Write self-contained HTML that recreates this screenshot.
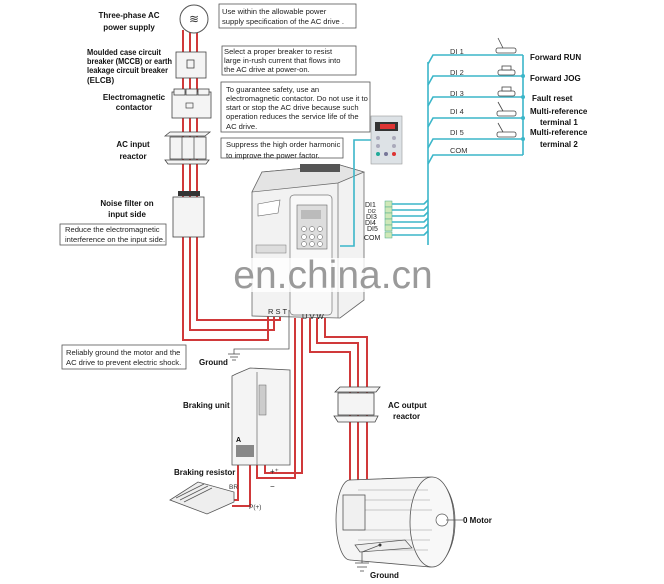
<!DOCTYPE html>
<html><head><meta charset="utf-8"><style>
body{margin:0;background:#fff}
svg{display:block}
text{font-family:"Liberation Sans",Arial,sans-serif}
.b{font-weight:bold;font-size:8px;fill:#111}
.t{font-size:7.6px;fill:#222}
.r{stroke:#d0393a;stroke-width:2;fill:none}
.c{stroke:#3bb6c9;stroke-width:1.6;fill:none}
.g{stroke:#444;stroke-width:0.8;fill:#f4f4f4}
.bx{fill:#fff;stroke:#555;stroke-width:0.8}
</style></head><body>
<svg width="664" height="584" viewBox="0 0 664 584">
<text class="b" x="129" y="18" text-anchor="middle">Three-phase AC</text>
<text class="b" x="129" y="30" text-anchor="middle">power supply</text>
<text class="b" x="87" y="55" textLength="74" lengthAdjust="spacingAndGlyphs">Moulded case circuit</text>
<text class="b" x="87" y="64" textLength="85" lengthAdjust="spacingAndGlyphs">breaker (MCCB) or earth</text>
<text class="b" x="87" y="73" textLength="81" lengthAdjust="spacingAndGlyphs">leakage circuit breaker</text>
<text class="b" x="87" y="83">(ELCB)</text>
<text class="b" x="134" y="100" text-anchor="middle">Electromagnetic</text>
<text class="b" x="134" y="110" text-anchor="middle">contactor</text>
<text class="b" x="133" y="147" text-anchor="middle">AC input</text>
<text class="b" x="133" y="159" text-anchor="middle">reactor</text>
<text class="b" x="127" y="206" text-anchor="middle">Noise filter on</text>
<text class="b" x="127" y="217" text-anchor="middle">input side</text>
<rect class="bx" x="219" y="4" width="137" height="24"/>
<text class="t" x="222" y="14">Use within the allowable power</text>
<text class="t" x="222" y="24">supply specification of the AC drive .</text>
<rect class="bx" x="222" y="46" width="134" height="29"/>
<text class="t" x="224" y="54">Select a proper breaker to resist</text>
<text class="t" x="224" y="63">large in-rush current that flows into</text>
<text class="t" x="224" y="72">the AC drive at power-on.</text>
<rect class="bx" x="221" y="82" width="149" height="50"/>
<text class="t" x="226" y="92">To guarantee safety, use an</text>
<text class="t" x="226" y="101">electromagnetic contactor. Do not use it to</text>
<text class="t" x="226" y="110">start or stop the AC drive because such</text>
<text class="t" x="226" y="119">operation reduces the service life of the</text>
<text class="t" x="226" y="129">AC drive.</text>
<rect class="bx" x="221" y="138" width="122" height="20"/>
<text class="t" x="226" y="147">Suppress the high order harmonic</text>
<text class="t" x="226" y="158">to improve the power factor.</text>
<rect class="bx" x="60" y="224" width="106" height="21"/>
<text class="t" x="65" y="232">Reduce the electromagnetic</text>
<text class="t" x="65" y="242">interference on the input side.</text>
<rect class="bx" x="62" y="345" width="124" height="24"/>
<text class="t" x="66" y="355">Reliably ground the motor and the</text>
<text class="t" x="66" y="365">AC drive to prevent electric shock.</text>
<path class="r" d="M183 30V340H268V310"/>
<path class="r" d="M190 30V330H274V310"/>
<path class="r" d="M197 30V320H280V310"/>
<circle cx="194" cy="19" r="14" fill="#fff" stroke="#555"/>
<text x="194" y="23" font-size="12" text-anchor="middle" fill="#333">≋</text>
<rect class="g" x="176" y="52" width="30" height="26"/>
<rect x="187" y="60" width="7" height="8" fill="none" stroke="#444" stroke-width="0.8"/>
<rect class="g" x="172" y="92" width="39" height="26"/>
<rect class="g" x="174" y="89" width="11" height="6"/><rect class="g" x="186" y="89" width="11" height="6"/><rect class="g" x="198" y="89" width="11" height="6"/>
<rect x="186" y="103" width="7" height="5" fill="none" stroke="#444" stroke-width="0.7"/>
<path class="g" d="M165 136L170 132H210L205 136Z"/>
<rect class="g" x="170" y="137" width="36" height="22"/>
<line x1="182" y1="137" x2="182" y2="159" stroke="#444" stroke-width="0.7"/><line x1="194" y1="137" x2="194" y2="159" stroke="#444" stroke-width="0.7"/>
<path class="g" d="M165 160H209L206 164H168Z"/>
<rect class="g" x="173" y="197" width="31" height="40"/>
<rect x="178" y="191" width="22" height="5" fill="#333"/>
<path d="M252 192L262 172L340 165L364 172L364 300L340 318L252 316Z" fill="#f2f2f2" stroke="#666" stroke-width="0.8"/>
<path d="M262 172L340 165L364 172L338 183L252 192Z" fill="#e4e4e4" stroke="#666" stroke-width="0.7"/>
<rect x="300" y="164" width="40" height="8" fill="#555"/>
<line x1="338" y1="183" x2="338" y2="318" stroke="#777" stroke-width="0.8"/>
<rect x="290" y="195" width="42" height="120" rx="4" fill="#f8f8f8" stroke="#777" stroke-width="0.7"/>
<rect x="297" y="205" width="30" height="44" fill="#ddd" stroke="#666" stroke-width="0.6"/>
<rect x="301" y="210" width="20" height="9" fill="#bbb"/>
<g fill="#fff" stroke="#555" stroke-width="0.5"><circle cx="304" cy="229" r="2.5"/><circle cx="312" cy="229" r="2.5"/><circle cx="320" cy="229" r="2.5"/><circle cx="304" cy="237" r="2.5"/><circle cx="312" cy="237" r="2.5"/><circle cx="320" cy="237" r="2.5"/><circle cx="304" cy="244" r="2.5"/><circle cx="312" cy="244" r="2.5"/><circle cx="320" cy="244" r="2.5"/></g>
<path d="M258 204L280 200L278 213L258 216Z" fill="#fff" stroke="#666" stroke-width="0.6"/>
<rect x="256" y="245" width="30" height="8" fill="#ddd" stroke="#777" stroke-width="0.5"/>
<text x="268" y="314" font-size="7.5" fill="#222">R S T</text>
<text x="302" y="319" font-size="7.5" fill="#222">U V W</text>
<rect x="240" y="258" width="226" height="34" fill="#fff" opacity="0.8"/>
<text x="333" y="288" font-size="39" fill="#9a9a9a" text-anchor="middle">en.china.cn</text>
<g font-size="7" fill="#222">
<text x="365" y="207">DI1</text><text x="368" y="213" font-size="5">DI2</text><text x="366" y="219">DI3</text><text x="365" y="225">DI4</text><text x="367" y="231">DI5</text><text x="364" y="240">COM</text></g>
<g fill="#cfe8b8" stroke="#4a8" stroke-width="0.5"><rect x="385" y="201" width="7" height="6"/><rect x="385" y="207" width="7" height="6"/><rect x="385" y="213" width="7" height="6"/><rect x="385" y="219" width="7" height="6"/><rect x="385" y="225" width="7" height="6"/><rect x="385" y="232" width="7" height="6"/></g>
<path class="c" d="M392 204H424L428 200M392 210H424L428 206M392 216H424L428 212M392 222H424L428 218M392 228H424L428 224M392 235H424L428 231" stroke-width="1.2"/>
<path class="c" d="M428 62V245"/>
<path class="c" d="M371 140H354V246H340"/>
<path class="c" d="M428 64L433 55H523M428 85L433 76H523M428 106L433 97H523M428 127L433 118H523M428 148L433 139H523M428 164L433 155H523M523 55V155" stroke-width="1.2"/>
<g fill="#3bb6c9"><circle cx="523" cy="76" r="2"/><circle cx="523" cy="97" r="2"/><circle cx="523" cy="118" r="2"/><circle cx="523" cy="139" r="2"/></g>
<g font-size="7.5" fill="#333"><text x="450" y="54">DI 1</text><text x="450" y="75">DI 2</text><text x="450" y="96">DI 3</text><text x="450" y="114">DI 4</text><text x="450" y="135">DI 5</text><text x="450" y="153">COM</text></g>
<g fill="#fff" stroke="#444" stroke-width="0.8">
<rect x="496" y="48" width="20" height="5" rx="2"/><line x1="503" y1="48" x2="498" y2="38"/>
<rect x="498" y="70" width="17" height="5" rx="2"/><rect x="502" y="66" width="9" height="4"/>
<rect x="498" y="91" width="17" height="5" rx="2"/><rect x="502" y="87" width="9" height="4"/>
<rect x="497" y="111" width="19" height="5" rx="2"/><line x1="503" y1="111" x2="498" y2="102"/>
<rect x="497" y="132" width="19" height="5" rx="2"/><line x1="503" y1="132" x2="498" y2="123"/>
</g>
<g class="b"><text x="530" y="60">Forward RUN</text><text x="530" y="81">Forward JOG</text><text x="532" y="101">Fault reset</text><text x="530" y="114">Multi-reference</text><text x="540" y="125">terminal 1</text><text x="530" y="135">Multi-reference</text><text x="540" y="147">terminal 2</text></g>
<rect x="371" y="116" width="31" height="48" fill="#dde2e6" stroke="#999" stroke-width="0.6"/>
<rect x="375" y="122" width="23" height="9" fill="#333"/><rect x="380" y="124" width="15" height="5" fill="#d33"/>
<g fill="#aab"><circle cx="378" cy="138" r="2"/><circle cx="394" cy="138" r="2"/><circle cx="378" cy="146" r="2"/><circle cx="394" cy="146" r="2"/></g>
<circle cx="378" cy="154" r="2" fill="#2a9"/><circle cx="386" cy="154" r="2" fill="#779"/><circle cx="394" cy="154" r="2" fill="#d33"/>
<path d="M289 310V349H234V354" stroke="#555" stroke-width="0.8" fill="none"/>
<path d="M228 354H240M230 357H238M232 360H236" stroke="#444" stroke-width="0.8"/>
<text class="b" x="199" y="365">Ground</text>
<path class="r" d="M295 318V478H257V465"/>
<path class="r" d="M302 318V473H265V465"/>
<path class="r" d="M238 465V500H228"/>
<path class="r" d="M250 465V506H232"/>
<path class="r" d="M310 318V352H350V500"/>
<path class="r" d="M317 318V343H358V500"/>
<path class="r" d="M325 318V337H367V500"/>
<path d="M236 374L250 368L290 370L290 465H232V376Z" fill="#f4f4f4" stroke="#555" stroke-width="0.8"/>
<line x1="257" y1="372" x2="257" y2="465" stroke="#666" stroke-width="0.7"/>
<rect x="259" y="385" width="7" height="30" fill="#ccc" stroke="#666" stroke-width="0.5"/>
<text x="236" y="442" font-size="7" font-weight="bold">A</text>
<rect x="236" y="445" width="18" height="12" fill="#888"/>
<text class="b" x="183" y="408">Braking unit</text>
<text class="b" x="174" y="475">Braking resistor</text>
<path d="M170 500L198 482L234 492L234 502L207 514Z" fill="#eee" stroke="#555" stroke-width="0.8"/>
<path d="M176 498L204 484M180 500L208 486M184 502L212 488" stroke="#555" stroke-width="0.7"/>
<text x="229" y="489" font-size="6.5" fill="#333">BR</text>
<text x="249" y="509" font-size="6.5" fill="#333">P(+)</text>
<text x="270" y="474" font-size="8" fill="#222">+⁺</text>
<text x="270" y="489" font-size="8" fill="#222">−</text>
<path class="g" d="M335 392L340 387H380L376 392Z"/>
<rect class="g" x="338" y="393" width="36" height="22"/>
<path class="g" d="M334 416H378L375 422H338Z"/>
<text class="b" x="388" y="408">AC output</text>
<text class="b" x="393" y="419">reactor</text>
<ellipse cx="350" cy="520" rx="14" ry="40" fill="#f5f5f5" stroke="#555" stroke-width="0.8"/>
<path d="M350 480L430 477A25 45 0 0 1 430 567L350 560" fill="#f5f5f5" stroke="#555" stroke-width="0.8"/>
<ellipse cx="432" cy="522" rx="22" ry="45" fill="#f8f8f8" stroke="#555" stroke-width="0.8"/>
<path d="M358 490H428M358 500H430M358 510H432M358 530H432M358 540H430M358 550H428" stroke="#999" stroke-width="0.5"/>
<circle cx="442" cy="520" r="6" fill="#fff" stroke="#555" stroke-width="0.7"/>
<line x1="446" y1="520" x2="463" y2="520" stroke="#555" stroke-width="0.7"/>
<text class="b" x="463" y="523">0 Motor</text>
<rect x="343" y="495" width="22" height="35" fill="#f0f0f0" stroke="#555" stroke-width="0.8"/>
<path d="M355 545L405 540L412 548L360 552Z" fill="#eee" stroke="#555" stroke-width="0.7"/>
<circle cx="380" cy="545" r="1.5" fill="#333"/>
<path d="M380 545L362 552V563" stroke="#555" stroke-width="0.8" fill="none"/>
<path d="M355 563H369M357 567H367M360 571H364" stroke="#444" stroke-width="0.8"/>
<text class="b" x="370" y="578">Ground</text>
</svg>
</body></html>
